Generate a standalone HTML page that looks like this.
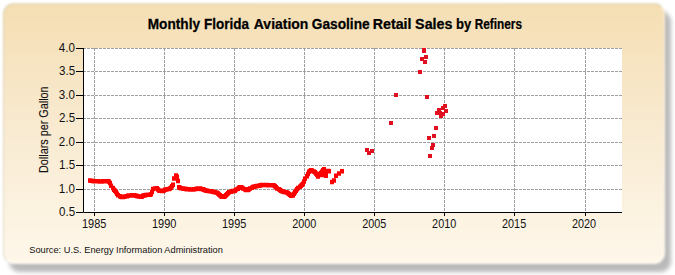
<!DOCTYPE html>
<html><head><meta charset="utf-8"><style>
html,body{margin:0;padding:0;background:#fff;width:675px;height:275px;overflow:hidden}
.panel{position:absolute;left:3px;top:3px;width:662.4px;height:261px;border-radius:11px;box-sizing:border-box;
border:1.5px solid;border-color:rgba(195,190,165,0.5) rgba(255,255,255,0.6) rgba(255,255,255,0.8) rgba(195,190,165,0.5);
background:linear-gradient(to bottom,#f5deb3 0%,#f9ebd2 50%,#fef7ea 100%);filter:blur(0.8px)}
.shadow{position:absolute;left:9px;top:10.5px;width:662.4px;height:261px;border-radius:11px;background:rgba(0,0,0,0.27);filter:blur(2.2px)}
svg{position:absolute;left:0;top:0}
text{font-family:"Liberation Sans",sans-serif}
.t{font-size:13.9px;font-weight:bold;fill:#000;stroke:#000;stroke-width:0.25px}
.a{font-size:12.5px;fill:#111}
</style></head><body>
<div class="shadow"></div><div class="panel"></div>
<svg width="675" height="275" viewBox="0 0 675 275">
<rect x="83" y="48" width="539" height="164" fill="#fff"/>
<path d="M83 48.5H622M83 71.5H622M83 95.5H622M83 118.5H622M83 142.5H622M83 165.5H622M83 189.5H622M94.5 48V212M164.5 48V212M234.5 48V212M304.5 48V212M374.5 48V212M444.5 48V212M514.5 48V212M585.5 48V212" stroke="#a0a0a0" stroke-width="1" stroke-dasharray="3 1" fill="none"/>
<path d="M88 178.35h4v4.5h-4zM89 178.61h4v4.5h-4zM91 178.87h4v4.5h-4zM92 178.95h4v4.5h-4zM93 178.95h4v4.5h-4zM94 178.96h4v4.5h-4zM95 179.04h4v4.5h-4zM96 179.12h4v4.5h-4zM98 179.15h4v4.5h-4zM99 179.15h4v4.5h-4zM100 179.15h4v4.5h-4zM101 179.11h4v4.5h-4zM102 179.07h4v4.5h-4zM103 179.03h4v4.5h-4zM105 178.99h4v4.5h-4zM106 178.96h4v4.5h-4zM107 179.60h4v4.5h-4zM108 180.69h4v4.5h-4zM109 183.44h4v4.5h-4zM111 185.78h4v4.5h-4zM112 187.43h4v4.5h-4zM113 188.60h4v4.5h-4zM114 189.78h4v4.5h-4zM115 191.54h4v4.5h-4zM116 193.11h4v4.5h-4zM118 194.12h4v4.5h-4zM119 194.55h4v4.5h-4zM120 194.73h4v4.5h-4zM121 194.74h4v4.5h-4zM122 194.57h4v4.5h-4zM123 194.32h4v4.5h-4zM125 193.91h4v4.5h-4zM126 193.54h4v4.5h-4zM127 193.19h4v4.5h-4zM128 193.20h4v4.5h-4zM129 193.19h4v4.5h-4zM130 192.90h4v4.5h-4zM132 192.89h4v4.5h-4zM133 193.18h4v4.5h-4zM134 193.52h4v4.5h-4zM135 193.86h4v4.5h-4zM136 194.04h4v4.5h-4zM137 194.23h4v4.5h-4zM139 194.46h4v4.5h-4zM140 194.14h4v4.5h-4zM141 193.50h4v4.5h-4zM142 193.18h4v4.5h-4zM143 192.90h4v4.5h-4zM144 192.67h4v4.5h-4zM146 192.55h4v4.5h-4zM147 192.55h4v4.5h-4zM148 192.41h4v4.5h-4zM149 192.11h4v4.5h-4zM150 189.69h4v4.5h-4zM151 186.64h4v4.5h-4zM153 186.35h4v4.5h-4zM154 186.17h4v4.5h-4zM155 186.06h4v4.5h-4zM156 187.22h4v4.5h-4zM157 188.23h4v4.5h-4zM158 188.58h4v4.5h-4zM160 188.78h4v4.5h-4zM161 188.84h4v4.5h-4zM162 188.28h4v4.5h-4zM163 187.61h4v4.5h-4zM164 187.26h4v4.5h-4zM165 186.93h4v4.5h-4zM167 186.64h4v4.5h-4zM168 186.15h4v4.5h-4zM169 185.56h4v4.5h-4zM170 184.06h4v4.5h-4zM171 182.49h4v4.5h-4zM172 176.26h4v4.5h-4zM174 173.30h4v4.5h-4zM175 174.61h4v4.5h-4zM176 178.71h4v4.5h-4zM177 185.07h4v4.5h-4zM178 185.55h4v4.5h-4zM179 186.03h4v4.5h-4zM181 186.28h4v4.5h-4zM182 186.45h4v4.5h-4zM183 186.62h4v4.5h-4zM184 186.79h4v4.5h-4zM185 186.95h4v4.5h-4zM187 187.04h4v4.5h-4zM188 187.13h4v4.5h-4zM189 187.21h4v4.5h-4zM190 187.30h4v4.5h-4zM191 187.27h4v4.5h-4zM192 187.06h4v4.5h-4zM194 186.83h4v4.5h-4zM195 186.55h4v4.5h-4zM196 186.28h4v4.5h-4zM197 186.25h4v4.5h-4zM198 186.31h4v4.5h-4zM199 186.66h4v4.5h-4zM201 187.09h4v4.5h-4zM202 187.62h4v4.5h-4zM203 187.95h4v4.5h-4zM204 188.23h4v4.5h-4zM205 188.49h4v4.5h-4zM206 188.68h4v4.5h-4zM208 188.88h4v4.5h-4zM209 189.07h4v4.5h-4zM210 189.27h4v4.5h-4zM211 189.47h4v4.5h-4zM212 189.78h4v4.5h-4zM213 190.09h4v4.5h-4zM215 190.53h4v4.5h-4zM216 191.30h4v4.5h-4zM217 192.18h4v4.5h-4zM218 193.11h4v4.5h-4zM219 193.96h4v4.5h-4zM220 194.49h4v4.5h-4zM222 194.49h4v4.5h-4zM223 193.96h4v4.5h-4zM224 193.02h4v4.5h-4zM225 191.97h4v4.5h-4zM226 190.91h4v4.5h-4zM227 190.03h4v4.5h-4zM229 189.45h4v4.5h-4zM230 189.10h4v4.5h-4zM231 188.86h4v4.5h-4zM232 188.74h4v4.5h-4zM233 188.40h4v4.5h-4zM234 187.35h4v4.5h-4zM236 186.39h4v4.5h-4zM237 185.51h4v4.5h-4zM238 184.97h4v4.5h-4zM239 185.12h4v4.5h-4zM240 185.47h4v4.5h-4zM241 186.35h4v4.5h-4zM243 187.10h4v4.5h-4zM244 187.74h4v4.5h-4zM245 187.85h4v4.5h-4zM246 187.76h4v4.5h-4zM247 187.00h4v4.5h-4zM248 186.22h4v4.5h-4zM250 185.40h4v4.5h-4zM251 184.87h4v4.5h-4zM252 184.46h4v4.5h-4zM253 184.16h4v4.5h-4zM254 183.89h4v4.5h-4zM255 183.65h4v4.5h-4zM257 183.44h4v4.5h-4zM258 183.25h4v4.5h-4zM259 183.05h4v4.5h-4zM260 182.82h4v4.5h-4zM261 182.65h4v4.5h-4zM263 182.65h4v4.5h-4zM264 182.65h4v4.5h-4zM265 182.76h4v4.5h-4zM266 182.92h4v4.5h-4zM267 183.05h4v4.5h-4zM268 183.05h4v4.5h-4zM270 183.05h4v4.5h-4zM271 183.12h4v4.5h-4zM272 183.24h4v4.5h-4zM273 184.07h4v4.5h-4zM274 185.04h4v4.5h-4zM275 186.15h4v4.5h-4zM277 187.10h4v4.5h-4zM278 187.86h4v4.5h-4zM279 188.44h4v4.5h-4zM280 188.96h4v4.5h-4zM281 189.31h4v4.5h-4zM282 189.66h4v4.5h-4zM284 190.02h4v4.5h-4zM285 190.37h4v4.5h-4zM286 191.03h4v4.5h-4zM287 191.79h4v4.5h-4zM288 192.61h4v4.5h-4zM289 193.47h4v4.5h-4zM291 193.13h4v4.5h-4zM292 191.43h4v4.5h-4zM293 189.92h4v4.5h-4zM294 188.46h4v4.5h-4zM295 187.06h4v4.5h-4zM296 185.70h4v4.5h-4zM298 184.41h4v4.5h-4zM299 183.43h4v4.5h-4zM300 182.61h4v4.5h-4zM301 181.58h4v4.5h-4zM302 179.23h4v4.5h-4zM303 176.38h4v4.5h-4zM305 173.94h4v4.5h-4zM306 171.64h4v4.5h-4zM307 169.38h4v4.5h-4zM308 168.64h4v4.5h-4zM309 167.99h4v4.5h-4zM310 168.31h4v4.5h-4zM312 169.20h4v4.5h-4zM313 170.12h4v4.5h-4zM314 171.25h4v4.5h-4zM315 172.38h4v4.5h-4zM316 172.36h4v4.5h-4zM317 171.77h4v4.5h-4zM319 170.68h4v4.5h-4zM320 169.51h4v4.5h-4zM321 168.04h4v4.5h-4zM322 166.97h4v4.5h-4zM323 168.92h4v4.5h-4zM324 169.38h4v4.5h-4zM326 168.75h4v4.5h-4zM327 169.02h4v4.5h-4zM316 174.25h4v4.5h-4zM324 173.45h4v4.5h-4zM320 172.75h4v4.5h-4zM330 179.75h4v4.5h-4zM332 178.25h4v4.5h-4zM334 173.55h4v4.5h-4zM337 171.25h4v4.5h-4zM340 169.05h4v4.5h-4z" fill="#f00"/>
<path d="M365 148h4v4h-4zM367 151h4v4h-4zM370 149h4v4h-4zM389 121h4v4h-4zM394 93h4v4h-4zM422 48h4v4h-4zM422 49h4v4h-4zM424 55h4v4h-4zM420 57h4v4h-4zM423 60h4v4h-4zM418 70h4v4h-4zM425 95h4v4h-4zM427 136h4v4h-4zM432 134h4v4h-4zM434 126h4v4h-4zM431 143h4v4h-4zM430 146h4v4h-4zM428 154h4v4h-4zM443 104h4v4h-4zM441 106h4v4h-4zM444 109h4v4h-4zM435 111h4v4h-4zM437 108h4v4h-4zM439 114h4v4h-4zM441 112h4v4h-4zM438 111h4v4h-4z" fill="#e01020"/>
<path d="M83.5 48V212.5H622" stroke="#000" stroke-width="1" fill="none"/>
<path d="M76 48.5H83M76 71.5H83M76 95.5H83M76 118.5H83M76 142.5H83M76 165.5H83M76 189.5H83M76 212.5H83M94.5 212V216M164.5 212V216M234.5 212V216M304.5 212V216M374.5 212V216M444.5 212V216M514.5 212V216M585.5 212V216" stroke="#000" stroke-width="1" fill="none"/>
<text transform="translate(147.72 28.6) scale(0.9827 1)" class="t">Monthly</text><text transform="translate(204.03 28.6) scale(0.9692 1)" class="t">Florida</text><text transform="translate(253.80 28.6) scale(1.0057 1)" class="t">Aviation</text><text transform="translate(311.71 28.6) scale(0.9887 1)" class="t">Gasoline</text><text transform="translate(372.67 28.6) scale(1.0266 1)" class="t">Retail</text><text transform="translate(415.09 28.6) scale(1.0298 1)" class="t">Sales</text><text transform="translate(456.06 28.6) scale(0.9400 1)" class="t">by</text><text transform="translate(474.75 28.6) scale(0.8500 1)" class="t">Refiners</text><text transform="translate(58.74 52) scale(0.9272727272727274 1)" class="a">4.0</text><text transform="translate(58.97 75) scale(0.9272727272727274 1)" class="a">3.5</text><text transform="translate(58.74 99) scale(0.9272727272727274 1)" class="a">3.0</text><text transform="translate(58.97 122) scale(0.9272727272727274 1)" class="a">2.5</text><text transform="translate(58.74 146) scale(0.9272727272727274 1)" class="a">2.0</text><text transform="translate(58.97 169) scale(0.9272727272727274 1)" class="a">1.5</text><text transform="translate(58.74 193) scale(0.9272727272727274 1)" class="a">1.0</text><text transform="translate(58.97 216) scale(0.9272727272727274 1)" class="a">0.5</text><text transform="translate(82.02 227.7) scale(0.8761904761904762 1)" class="a">1985</text><text transform="translate(151.99 227.7) scale(0.8761904761904762 1)" class="a">1990</text><text transform="translate(221.96 227.7) scale(0.8761904761904762 1)" class="a">1995</text><text transform="translate(292.16 227.7) scale(0.8679245283018868 1)" class="a">2000</text><text transform="translate(362.13 227.7) scale(0.8679245283018868 1)" class="a">2005</text><text transform="translate(432.10 227.7) scale(0.8679245283018868 1)" class="a">2010</text><text transform="translate(502.07 227.7) scale(0.8679245283018868 1)" class="a">2015</text><text transform="translate(572.04 227.7) scale(0.8679245283018868 1)" class="a">2020</text>
<text transform="translate(47.6 173) rotate(-90)" style="font-size:12px;fill:#111;stroke:#111;stroke-width:0.12px" textLength="86.6" lengthAdjust="spacingAndGlyphs">Dollars per Gallon</text>
<text x="29.3" y="252.7" style="font-size:9.6px;fill:#111" textLength="193.6" lengthAdjust="spacingAndGlyphs">Source: U.S. Energy Information Administration</text>
</svg>
</body></html>
